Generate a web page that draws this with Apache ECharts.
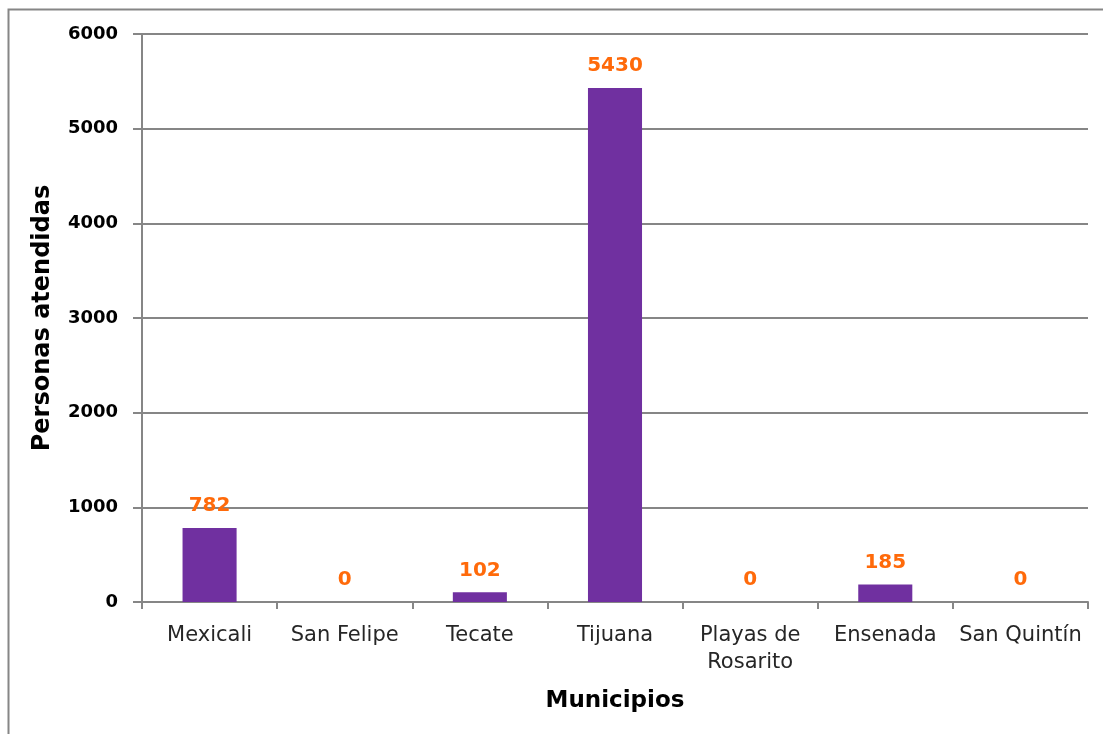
<!DOCTYPE html>
<html><head><meta charset="utf-8">
<script src="https://cdn.jsdelivr.net/npm/echarts@6/dist/echarts.min.js"></script>
<style>html,body{margin:0;padding:0;background:#fff}#c{width:1103px;height:734px}</style>
</head><body><div id="c"></div>
<script>
const categories = ['Mexicali','San Felipe','Tecate','Tijuana','Playas de\nRosarito','Ensenada','San Quintín'];
const values = [782, 0, 102, 5430, 0, 185, 0];
const yTicks = {min: 0, max: 6000, interval: 1000};
const xTitle = 'Municipios';
const yTitle = 'Personas atendidas';

const chart = echarts.init(document.getElementById('c'));
const font = '"DejaVu Sans", sans-serif';
chart.setOption({
  animation: false,
  graphic: [{type:'rect', shape:{x:8.5,y:9.5,width:1200,height:800}, style:{fill:'none', stroke:'#868686', lineWidth:2}, silent:true}],
  grid: {left:142, right:15, top:34, bottom:132},
  xAxis: {
    type:'category', data: categories,
    name: xTitle, nameLocation:'middle', nameGap:88,
    nameTextStyle:{fontFamily:font, fontWeight:'bold', fontSize:23, color:'#000'},
    axisLine:{lineStyle:{color:'#868686', width:2}},
    axisTick:{show:true, alignWithLabel:false, length:7, lineStyle:{color:'#868686', width:2}},
    axisLabel:{fontFamily:font, fontSize:21, color:'#262626', margin:20, interval:0, lineHeight:27}
  },
  yAxis: {
    type:'value', min:yTicks.min, max:yTicks.max, interval:yTicks.interval,
    name: yTitle, nameLocation:'middle', nameGap:87, nameRotate:90,
    nameTextStyle:{fontFamily:font, fontWeight:'bold', fontSize:24, color:'#000'},
    axisLine:{show:true, lineStyle:{color:'#868686', width:2}},
    axisTick:{show:true, length:9, lineStyle:{color:'#868686', width:2}},
    splitLine:{lineStyle:{color:'#868686', width:2}},
    axisLabel:{fontFamily:font, fontSize:18, fontWeight:'bold', color:'#000', margin:24, formatter: v => String(v)}
  },
  series: [{
    type:'bar', data: values, barWidth:'40%',
    itemStyle:{color:'#7030A0'},
    label:{show:true, position:'top', distance:12, fontFamily:font, fontWeight:'bold', fontSize:20, color:'#FF6A0A'}
  }]
});
</script></body></html>
